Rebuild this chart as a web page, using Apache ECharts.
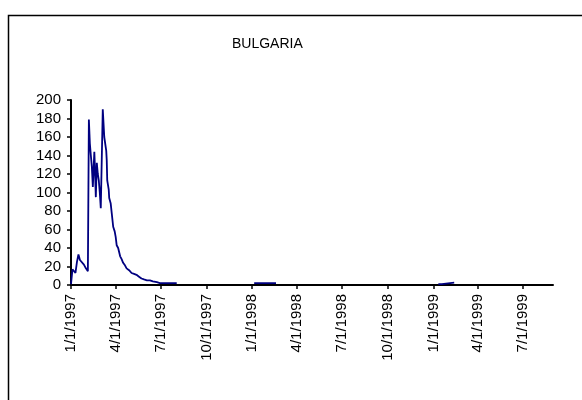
<!DOCTYPE html>
<html>
<head>
<meta charset="utf-8">
<title>BULGARIA</title>
<script src="https://cdn.jsdelivr.net/npm/echarts@6/dist/echarts.min.js"></script>
<style>
  html, body { margin: 0; padding: 0; background: #ffffff; }
  #chart { width: 582px; height: 400px; }
</style>
</head>
<body>
<div id="chart"></div>
<script>
// Series: dates (YYYY-MM-DD) and values; null marks a break in the line.
const dates = [
  '1997-01-01', '1997-01-04', '1997-01-07', '1997-01-10', '1997-01-13', '1997-01-16',
  '1997-01-19', '1997-01-23', '1997-01-27', '1997-01-31', '1997-02-04', '1997-02-05',
  '1997-02-06', '1997-02-08', '1997-02-10', '1997-02-12', '1997-02-14', '1997-02-17',
  '1997-02-18', '1997-02-20', '1997-02-22', '1997-02-24', '1997-02-26', '1997-02-28',
  '1997-03-02', '1997-03-06', '1997-03-09', '1997-03-13', '1997-03-14', '1997-03-15',
  '1997-03-18', '1997-03-19', '1997-03-22', '1997-03-24', '1997-03-27', '1997-03-30',
  '1997-04-01', '1997-04-03', '1997-04-06', '1997-04-10', '1997-04-13', '1997-04-16',
  '1997-04-20', '1997-04-23', '1997-04-28', '1997-05-03', '1997-05-08', '1997-05-13',
  '1997-05-18', '1997-05-23', '1997-05-28', '1997-06-03', '1997-06-09', '1997-06-15',
  '1997-06-23', '1997-06-29', '1997-07-09', '1997-07-19', '1997-08-02',
  '1997-10-01',
  '1998-01-05', '1998-01-20', '1998-02-03', '1998-02-18',
  '1998-09-01',
  '1999-01-11', '1999-01-18', '1999-01-21', '1999-02-12'
];
const values = [
  1, 17, 17, 13, 25, 33,
  27, 25, 22, 18, 15, 13,
  179, 153, 140, 128, 106, 144,
  130, 95, 132, 120, 113, 100,
  83, 190, 160, 145, 135, 113,
  103, 94, 88, 78, 63, 58,
  52, 43, 40, 31, 28, 24,
  21, 18, 16, 13, 12, 11,
  9, 7, 6, 5, 5, 4,
  3, 2, 2, 2, 2,
  null,
  2, 2, 2, 2,
  null,
  1, 1, 2.5, 2.5
];

// Axis ticks and labels
const xTickLabels = [
  '1/1/1997', '4/1/1997', '7/1/1997', '10/1/1997',
  '1/1/1998', '4/1/1998', '7/1/1998', '10/1/1998',
  '1/1/1999', '4/1/1999', '7/1/1999'
];
const xStart = '1997-01-01';
const xEnd = '1999-08-30';
const yMin = 0, yMax = 200, yStep = 20;

function isoToUTC(s) {
  const p = s.split('-').map(Number);
  return Date.UTC(p[0], p[1] - 1, p[2]);
}
function mdyToUTC(s) {
  const p = s.split('/').map(Number);
  return Date.UTC(p[2], p[0] - 1, p[1]);
}
function fmtMDY(t) {
  const d = new Date(t);
  return (d.getUTCMonth() + 1) + '/' + d.getUTCDate() + '/' + d.getUTCFullYear();
}

const tickValues = xTickLabels.map(mdyToUTC);
const seriesData = dates.map((d, i) => [isoToUTC(d), values[i]]);

const FONT = '"Liberation Sans", Arial, sans-serif';

const chart = echarts.init(document.getElementById('chart'), null, { renderer: 'canvas' });
chart.setOption({
  animation: false,
  backgroundColor: '#ffffff',
  title: {
    text: 'BULGARIA',
    left: 227,
    top: 32,
    textStyle: { fontFamily: FONT, fontSize: 14, fontWeight: 'normal', color: '#000' }
  },
  graphic: [{
    type: 'rect',
    shape: { x: 8.5, y: 15.5, width: 620, height: 420 },
    style: { fill: 'none', stroke: '#000', lineWidth: 1.5 },
    silent: true
  }],
  grid: { left: 71, top: 100, right: 29, bottom: 115, containLabel: false },
  xAxis: {
    // date axis drawn as a linear value axis of UTC timestamps
    type: 'value',
    min: isoToUTC(xStart),
    max: isoToUTC(xEnd),
    scale: true,
    splitLine: { show: false },
    axisLine: { show: true, onZero: false, lineStyle: { color: '#000', width: 2 } },
    axisTick: { show: true, length: 4, customValues: tickValues, lineStyle: { color: '#000', width: 1.5 } },
    axisLabel: {
      customValues: tickValues,
      rotate: 90,
      margin: 9,
      fontFamily: FONT,
      fontSize: 15,
      color: '#000',
      formatter: function (v) { return fmtMDY(v); }
    }
  },
  yAxis: {
    type: 'value',
    min: yMin,
    max: yMax,
    interval: yStep,
    splitLine: { show: false },
    axisLine: { show: true, lineStyle: { color: '#000', width: 2 } },
    axisTick: { show: true, length: 4, lineStyle: { color: '#000', width: 1.5 } },
    axisLabel: { margin: 10, fontFamily: FONT, fontSize: 15, color: '#000' }
  },
  series: [{
    type: 'line',
    data: seriesData,
    showSymbol: false,
    connectNulls: false,
    lineStyle: { color: '#000080', width: 1.8 },
    itemStyle: { color: '#000080' }
  }]
});
</script>
</body>
</html>
